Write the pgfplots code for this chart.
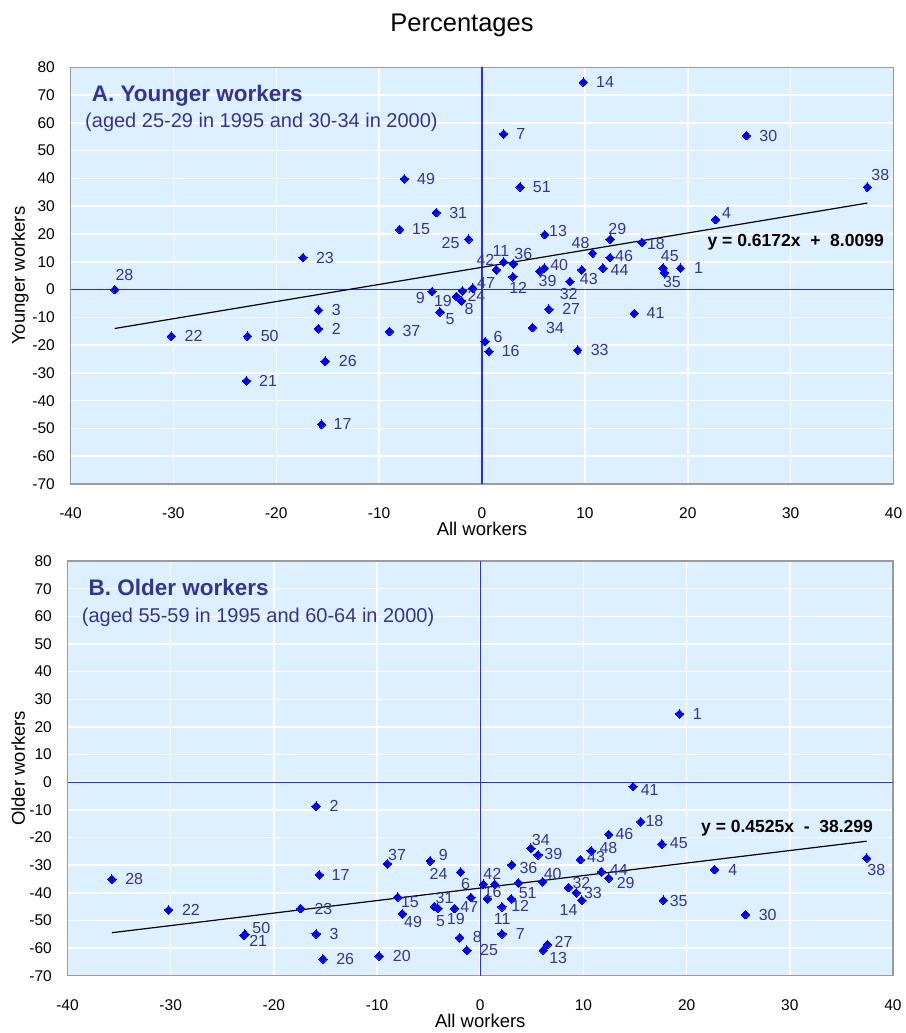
\documentclass[border=0pt]{standalone}
\usepackage{pgfplots}
\pgfplotsset{compat=1.18}
\usepackage{pgfplotstable}
\usepackage{fontspec}
\setmainfont{Liberation Sans}
\definecolor{bgblue}{RGB}{221,240,255}
\definecolor{lblue}{RGB}{51,51,153}
\definecolor{framegray}{RGB}{155,155,155}
\definecolor{zeroblue}{RGB}{40,40,255}

\pgfplotstableread{
id x y dx dy
1 19.3 7.7 18 0
2 -15.9 -14.1 18 0
3 -15.9 -7.4 18 0
4 22.7 25.2 11 6.3
5 -4.1 -8.1 10.3 -7
6 0.3 -18.7 13 4.7
7 2.1 56.0 17.3 0
8 -2.0 -4.1 7.7 -8.3
9 -4.85 -0.7 -11.7 -6.7
11 2.1 9.9 -2.7 11.3
12 3.0 4.6 5.3 -10.7
13 6.1 19.8 13.3 3.7
14 9.85 74.6 21.7 0
15 -8.0 21.6 21.3 0
16 0.68 -22.3 21.7 0
17 -15.6 -48.5 21 0
18 15.55 17.0 14 -2
19 -2.5 -2.5 -13.3 -5
21 -22.9 -32.9 21.7 0
22 -30.2 -16.8 22.3 0
23 -17.4 11.5 22 0
24 -1.9 -0.5 14 -5
25 -1.3 18.1 -18 -3.3
26 -15.25 -25.8 22.7 0
27 6.5 -7.1 22.3 0
28 -35.7 0.0 9.7 14.3
29 12.45 18.1 7.3 10
30 25.7 55.4 22 0
31 -4.45 27.7 22 0
32 8.55 2.9 -1.3 -12.7
33 9.3 -21.8 22 0
34 4.9 -13.7 22.7 0
35 17.75 6.0 7.3 -9.3
36 3.05 9.25 10 9.7
37 -9.0 -15.1 22 0
38 37.45 36.9 13 12
39 5.6 6.6 8 -9.7
40 6.05 7.7 15 3.3
41 14.8 -8.6 21.3 0
42 1.4 7.1 -11 9.7
43 9.7 7.1 7 -9.3
44 11.75 7.7 16.7 -1.7
45 17.6 7.7 6.7 12
46 12.45 11.5 14 1.7
47 -0.9 0.5 13.3 4.7
48 10.75 13.1 -12 9.7
49 -7.55 39.8 21.7 0
50 -22.8 -16.8 22.3 0
51 3.7 36.9 21.7 0
}\datatop

\pgfplotstableread{
id x y dx dy
1 19.3 24.7 18 0
2 -15.9 -8.7 18 0
3 -15.9 -54.9 18 0
4 22.7 -31.6 18.3 0
5 -4.1 -45.6 2.7 -12.7
6 0.3 -36.9 -17.7 0.7
7 2.1 -54.9 18.3 0
8 -2.0 -56.3 17.7 1
9 -4.85 -28.5 13 5.7
11 2.1 -45.1 0.3 -11.7
12 3.0 -42.2 9 -7
13 6.1 -60.8 15 -7.3
14 9.85 -42.7 -13.3 -9.3
15 -8.0 -41.6 12.3 -5.3
16 0.68 -42.2 5.3 7
17 -15.6 -33.5 21.3 0
18 15.55 -14.3 13.7 1
19 -2.5 -45.7 1.3 -10
20 -9.8 -62.9 22.7 0
21 -22.9 -55.5 14.3 -5
22 -30.2 -46.2 22.3 0
23 -17.4 -45.7 22.7 0
24 -1.9 -32.5 -22 -2
25 -1.3 -60.8 22.3 0
26 -15.25 -64.0 22.3 0
27 6.5 -58.7 16.3 2.7
28 -35.7 -35.1 22.3 0
29 12.45 -34.7 17 -5.3
30 25.7 -47.9 22.3 0
31 -4.45 -45.0 10.3 9
32 8.55 -38.1 13 5
33 9.3 -40.0 16.7 -0.7
34 4.9 -23.9 10 8
35 17.75 -42.7 15.3 -1
36 3.05 -29.9 16.7 -2.7
37 -9.0 -29.5 9.7 8.7
38 37.45 -27.5 9.7 -12
39 5.6 -26.3 15.3 0.7
40 6.05 -36.0 10 7.7
41 14.8 -1.6 16.7 -3
42 1.4 -36.9 -2.3 10.7
43 9.7 -28.0 15.7 2.7
44 11.75 -32.4 17.3 1.7
45 17.6 -22.4 17 1.3
46 12.45 -18.9 15.7 0
47 -0.9 -41.7 -1.7 -10
48 10.75 -24.8 17.3 2.3
49 -7.55 -47.6 10.7 -8.7
50 -22.8 -55.0 16.3 6.7
51 3.7 -36.4 9.3 -10.7
}\databot

\pgfplotsset{
  panel/.style={
    scale only axis, clip=false,
    xmin=-40, xmax=40, ymin=-70, ymax=80,
    xtick={-40,-30,...,40}, ytick={-70,-60,...,80},
    xmajorgrids, ymajorgrids,
    major grid style={white, line width=1.5pt},
    extra x ticks={0}, extra y ticks={0},
    extra x tick labels={}, extra y tick labels={},
    extra tick style={grid=major, major grid style={zeroblue, line width=1.1pt}},
    axis background/.style={fill=bgblue},
    axis line style={framegray, line width=1.5pt},
    major tick length=0pt,
    /pgf/number format/assume math mode=true,
    tick label style={font=\fontsize{15.5}{18}\selectfont, inner sep=0pt},
    xticklabel style={anchor=base, yshift=-34.3pt},
    yticklabel style={anchor=east, xshift=-15.5pt},
  },
  pts/.style={only marks, mark=diamond*, mark size=4.3pt,
    mark options={xscale=1.3, fill=blue, draw=blue, line width=0pt},
    nodes near coords, point meta=explicit symbolic,
    visualization depends on={\thisrow{dx} \as \dx},
    visualization depends on={\thisrow{dy} \as \dy},
    every node near coord/.append style={anchor=center, inner sep=0pt,
      xshift=\dx pt, yshift=\dy pt,
      font=\fontsize{16}{18}\selectfont, text=lblue}},
}

\begin{document}
\begin{tikzpicture}
\path[use as bounding box] (0pt,0pt) rectangle (905pt,-1033pt);

% ---------- Panel A ----------
\begin{axis}[panel,
  at={(70.5pt,-484pt)}, anchor=south west,
  width=823pt, height=416.7pt,
  xlabel={All workers}, ylabel={Younger workers},
  every axis x label/.style={at={(rel axis cs:0.5,-0.1224)}, anchor=base, font=\fontsize{18.5}{22}\selectfont},
  every axis y label/.style={at={(rel axis cs:-0.0553,0.5)}, anchor=base, rotate=90, font=\fontsize{18.5}{22}\selectfont},
]
\addplot[black, line width=1.2pt] coordinates {(-35.7,-14.02) (37.45,31.12)};
\addplot[pts] table[x=x, y=y, meta=id] {\datatop};
\node[anchor=base west, text=lblue, font=\fontsize{22.5}{26}\selectfont\bfseries] at (rel axis cs:0.0216,0.9187) {A. Younger workers};
\node[anchor=base west, text=lblue, font=\fontsize{20}{24}\selectfont] at (rel axis cs:0.0136,0.856) {(aged 25-29 in 1995 and 30-34 in 2000)};
\node[anchor=base east, font=\fontsize{17.5}{20}\selectfont\bfseries] at (rel axis cs:0.9925,0.5695) {y = 0.6172x \ + \ 8.0099};
\node[anchor=base, font=\fontsize{25.5}{28}\selectfont] at (rel axis cs:0.4757,1.0854) {Percentages};
\end{axis}

% ---------- Panel B ----------
\begin{axis}[panel,
  at={(67.5pt,-975.7pt)}, anchor=south west,
  width=825.5pt, height=414.7pt,
  xlabel={All workers}, ylabel={Older workers},
  every axis x label/.style={at={(rel axis cs:0.5,-0.126)}, anchor=base, font=\fontsize{18.5}{22}\selectfont},
  every axis y label/.style={at={(rel axis cs:-0.0515,0.5)}, anchor=base, rotate=90, font=\fontsize{18.5}{22}\selectfont},
]
\addplot[black, line width=1.2pt] coordinates {(-35.7,-54.45) (37.45,-21.35)};
\addplot[pts] table[x=x, y=y, meta=id] {\databot};
\node[anchor=base west, text=lblue, font=\fontsize{22.5}{26}\selectfont\bfseries] at (rel axis cs:0.0212,0.918) {B. Older workers};
\node[anchor=base west, text=lblue, font=\fontsize{20}{24}\selectfont] at (rel axis cs:0.0131,0.851) {(aged 55-59 in 1995 and 60-64 in 2000)};
\node[anchor=base east, font=\fontsize{17.5}{20}\selectfont\bfseries] at (rel axis cs:0.980,0.345) {y = 0.4525x \ - \ 38.299};
\end{axis}
\end{tikzpicture}
\end{document}
